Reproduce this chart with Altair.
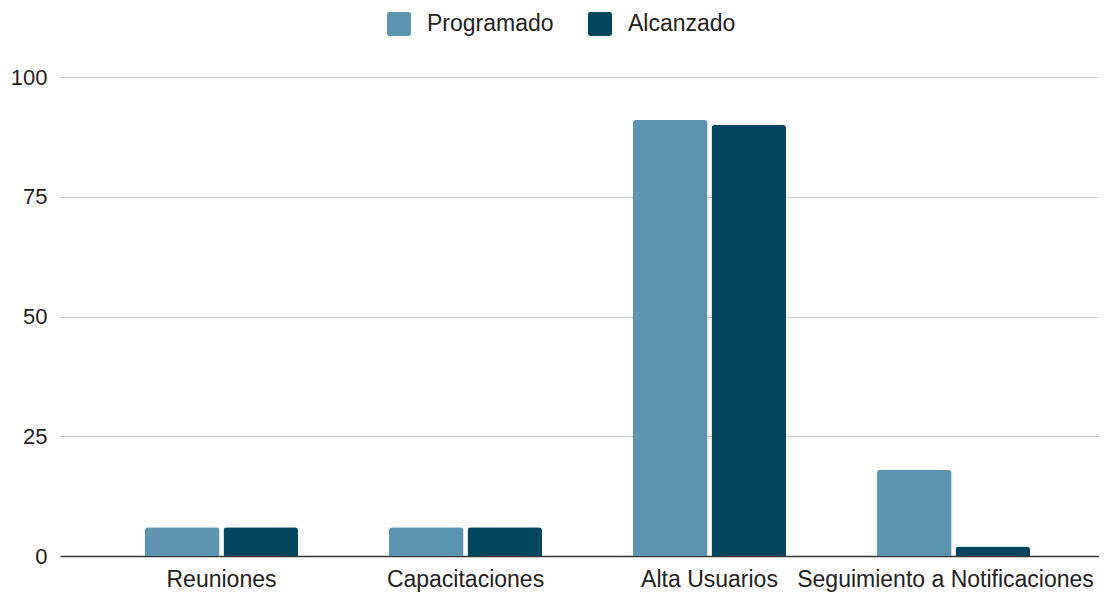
import altair as alt
import pandas as pd

categories = ["Reuniones", "Capacitaciones", "Alta Usuarios", "Seguimiento a Notificaciones"]
series = ["Programado", "Alcanzado"]
programado = [6, 6, 91, 18]
alcanzado = [6, 6, 90, 2]
colors = ["#5b93b1", "#02475f"]
y_ticks = [0, 25, 50, 75, 100]

rows = []
for c, p, a in zip(categories, programado, alcanzado):
    rows.append({"categoria": c, "serie": "Programado", "valor": p})
    rows.append({"categoria": c, "serie": "Alcanzado", "valor": a})
df = pd.DataFrame(rows)

FONT = "Liberation Sans"
ROUNDED_SQUARE = ("M -1 -0.8 Q -1 -1 -0.8 -1 L 0.8 -1 Q 1 -1 1 -0.8 L 1 0.8 "
                  "Q 1 1 0.8 1 L -0.8 1 Q -1 1 -1 0.8 Z")

last_label_shift = {
    "condition": {"test": "datum.value === 'Seguimiento a Notificaciones'", "value": -8},
    "value": 0,
}

chart = alt.Chart(df).mark_bar(
    cornerRadiusTopLeft=3, cornerRadiusTopRight=3
).encode(
    x=alt.X("categoria:N", sort=categories, title=None,
            scale=alt.Scale(paddingInner=0.373, paddingOuter=0.3155, align=0.552, round=False),
            axis=alt.Axis(labelAngle=0, labelFontSize=23, labelFont=FONT, labelColor="#222222",
                          labelPadding=12, labelLimit=0, labelOffset=last_label_shift,
                          ticks=False, grid=False,
                          domainColor="#333333", domainWidth=1.5)),
    xOffset=alt.XOffset("serie:N", sort=series, scale=alt.Scale(paddingInner=0.05, round=False)),
    y=alt.Y("valor:Q", title=None,
            scale=alt.Scale(domain=[0, 100], nice=False),
            axis=alt.Axis(values=y_ticks, labelFontSize=22, labelFont=FONT, labelColor="#222222",
                          labelPadding=13, ticks=False, domain=False,
                          gridColor="#cccccc", gridWidth=1)),
    color=alt.Color("serie:N", sort=series,
                    scale=alt.Scale(domain=series, range=colors),
                    legend=alt.Legend(title=None, orient="none", direction="horizontal",
                                      legendX=327, legendY=-65,
                                      symbolType=ROUNDED_SQUARE, symbolSize=576,
                                      symbolStrokeWidth=0, symbolOpacity=1,
                                      labelFontSize=23, labelFont=FONT, labelColor="#222222",
                                      labelOffset=16, columnPadding=34)),
).properties(
    width=1039, height=479,
    autosize=alt.AutoSizeParams(type="none"),
    padding={"left": 52, "top": 69, "right": 0, "bottom": 40},
).configure_view(stroke=None)

chart.save("out.html", embed_options={"renderer": "svg", "actions": False})
